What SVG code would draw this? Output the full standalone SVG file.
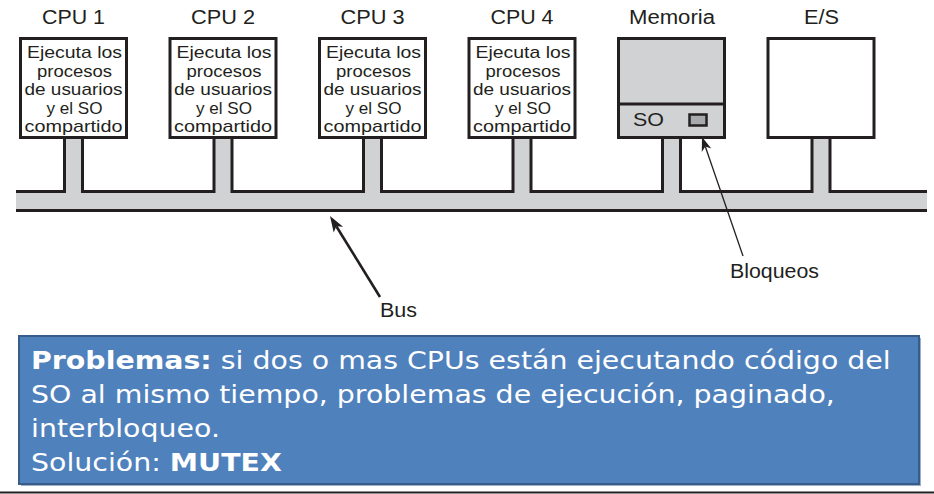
<svg xmlns="http://www.w3.org/2000/svg" width="934" height="494" viewBox="0 0 934 494">
<style>
.lbl{font-family:"Liberation Sans",Arial,sans-serif;font-size:19.5px;fill:#231f20;text-anchor:middle}
.bt{font-family:"Liberation Sans",Arial,sans-serif;font-size:17px;fill:#231f20;text-anchor:middle}
.box{fill:#fff;stroke:#231f20;stroke-width:3}
.gbox{fill:#d1d2d4;stroke:#231f20;stroke-width:3}
.ol{fill:none;stroke:#231f20;stroke-width:3}
.note{font-family:"DejaVu Sans",Verdana,sans-serif;font-size:25px;fill:#fff}
.b{font-weight:bold}
</style>
<rect width="934" height="494" fill="#fff"/>
<g id="connectors">
  <rect x="16" y="191.5" width="911" height="19" fill="#d1d2d4"/>
  <rect x="64.5" y="138" width="18" height="55" fill="#d1d2d4"/>
  <rect x="214" y="138" width="18" height="55" fill="#d1d2d4"/>
  <rect x="363.5" y="138" width="18" height="55" fill="#d1d2d4"/>
  <rect x="513" y="138" width="18" height="55" fill="#d1d2d4"/>
  <rect x="662.5" y="138" width="18" height="55" fill="#d1d2d4"/>
  <rect x="812" y="138" width="18" height="55" fill="#d1d2d4"/>
  <path class="ol" d="M16 191.5 H64.5 V138 M82.5 138 V191.5 H214 V138 M232 138 V191.5 H363.5 V138 M381.5 138 V191.5 H513 V138 M531 138 V191.5 H662.5 V138 M680.5 138 V191.5 H812 V138 M830 138 V191.5 H927"/>
  <path class="ol" d="M16 210.5 H927"/>
  <line x1="380" y1="297" x2="336.3" y2="226.2" stroke="#231f20" stroke-width="2.6"/>
  <polygon points="330,216 343.1,226.7 336.3,226.2 333.7,232.5" fill="#231f20"/>
  <line x1="743" y1="256" x2="705.3" y2="146.5" stroke="#231f20" stroke-width="1.3"/>
  <polygon points="702,137 711.3,148.6 705.3,146.5 701.8,151.9" fill="#231f20"/>
</g>
<g id="cpu1">
  <text class="lbl" x="73.5" y="24" textLength="63" lengthAdjust="spacingAndGlyphs">CPU 1</text>
  <rect class="box" x="20.5" y="38.5" width="106" height="99"/>
  <text class="bt" x="74.5" y="58" textLength="95" lengthAdjust="spacingAndGlyphs">Ejecuta los</text>
  <text class="bt" x="74.5" y="76.5" textLength="75" lengthAdjust="spacingAndGlyphs">procesos</text>
  <text class="bt" x="73.5" y="95" textLength="98" lengthAdjust="spacingAndGlyphs">de usuarios</text>
  <text class="bt" x="74.5" y="113.5" textLength="56" lengthAdjust="spacingAndGlyphs">y el SO</text>
  <text class="bt" x="73.5" y="132" textLength="98" lengthAdjust="spacingAndGlyphs">compartido</text>
</g>
<g id="cpu2">
  <text class="lbl" x="223" y="24" textLength="64" lengthAdjust="spacingAndGlyphs">CPU 2</text>
  <rect class="box" x="170" y="38.5" width="106" height="99"/>
  <text class="bt" x="224" y="58" textLength="95" lengthAdjust="spacingAndGlyphs">Ejecuta los</text>
  <text class="bt" x="224" y="76.5" textLength="75" lengthAdjust="spacingAndGlyphs">procesos</text>
  <text class="bt" x="223" y="95" textLength="98" lengthAdjust="spacingAndGlyphs">de usuarios</text>
  <text class="bt" x="224" y="113.5" textLength="56" lengthAdjust="spacingAndGlyphs">y el SO</text>
  <text class="bt" x="223" y="132" textLength="98" lengthAdjust="spacingAndGlyphs">compartido</text>
</g>
<g id="cpu3">
  <text class="lbl" x="372.5" y="24" textLength="64" lengthAdjust="spacingAndGlyphs">CPU 3</text>
  <rect class="box" x="319.5" y="38.5" width="106" height="99"/>
  <text class="bt" x="373.5" y="58" textLength="95" lengthAdjust="spacingAndGlyphs">Ejecuta los</text>
  <text class="bt" x="373.5" y="76.5" textLength="75" lengthAdjust="spacingAndGlyphs">procesos</text>
  <text class="bt" x="372.5" y="95" textLength="98" lengthAdjust="spacingAndGlyphs">de usuarios</text>
  <text class="bt" x="373.5" y="113.5" textLength="56" lengthAdjust="spacingAndGlyphs">y el SO</text>
  <text class="bt" x="372.5" y="132" textLength="98" lengthAdjust="spacingAndGlyphs">compartido</text>
</g>
<g id="cpu4">
  <text class="lbl" x="522" y="24" textLength="63" lengthAdjust="spacingAndGlyphs">CPU 4</text>
  <rect class="box" x="469" y="38.5" width="106" height="99"/>
  <text class="bt" x="523" y="58" textLength="95" lengthAdjust="spacingAndGlyphs">Ejecuta los</text>
  <text class="bt" x="523" y="76.5" textLength="75" lengthAdjust="spacingAndGlyphs">procesos</text>
  <text class="bt" x="522" y="95" textLength="98" lengthAdjust="spacingAndGlyphs">de usuarios</text>
  <text class="bt" x="523" y="113.5" textLength="56" lengthAdjust="spacingAndGlyphs">y el SO</text>
  <text class="bt" x="522" y="132" textLength="98" lengthAdjust="spacingAndGlyphs">compartido</text>
</g>
<g id="memoria">
  <text class="lbl" x="672" y="24" textLength="86" lengthAdjust="spacingAndGlyphs">Memoria</text>
  <rect class="gbox" x="618.5" y="38.5" width="106" height="99"/>
  <line x1="618.5" y1="104" x2="724.5" y2="104" stroke="#231f20" stroke-width="3"/>
  <text class="lbl" x="633" y="126" style="text-anchor:start;font-size:18px" textLength="31" lengthAdjust="spacingAndGlyphs">SO</text>
  <rect x="689.5" y="114.5" width="17" height="11" fill="#a7a9ac" stroke="#231f20" stroke-width="2.5"/>
</g>
<g id="es">
  <text class="lbl" x="821.5" y="24" textLength="35" lengthAdjust="spacingAndGlyphs">E/S</text>
  <rect class="box" x="768" y="38.5" width="106" height="99"/>
</g>
<g id="bus-label">
  <text class="lbl" x="380" y="317" style="text-anchor:start" textLength="37" lengthAdjust="spacingAndGlyphs">Bus</text>
</g>
<g id="bloqueos-label">
  <text class="lbl" x="730" y="278" style="text-anchor:start" textLength="89" lengthAdjust="spacingAndGlyphs">Bloqueos</text>
</g>
<g id="nota">
  <rect x="21" y="338" width="900" height="148" fill="#3a5f8c" opacity="0.5"/>
  <rect x="19" y="336" width="900" height="148" fill="#4f81bd" stroke="#385d8a" stroke-width="2"/>
  <g transform="translate(31,0) scale(1.137,1)">
    <text class="note" x="0" y="369"><tspan class="b">Problemas:</tspan> si dos o mas CPUs están ejecutando código del</text>
    <text class="note" x="0" y="403">SO al mismo tiempo, problemas de ejecución, paginado,</text>
    <text class="note" x="0" y="437">interbloqueo.</text>
    <text class="note" x="0" y="471">Solución: <tspan class="b">MUTEX</tspan></text>
  </g>
</g>
<line x1="0" y1="492.5" x2="934" y2="492.5" stroke="#231f20" stroke-width="2"/>
</svg>
